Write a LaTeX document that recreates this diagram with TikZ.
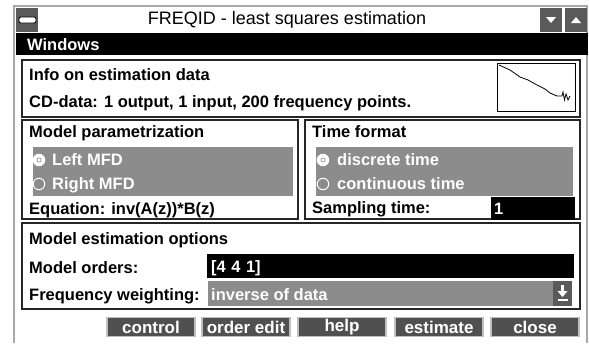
\documentclass[tikz,border=0pt]{standalone}
\usepackage{fontspec}
\setmainfont{Liberation Sans}
\definecolor{panelgray}{HTML}{8C8C8C}
\definecolor{btngray}{HTML}{505050}
\definecolor{icongray}{HTML}{5A5A5A}
\definecolor{framegray}{HTML}{A8A8A8}
\tikzset{
  lbl/.style={anchor=base west, inner sep=0pt, font=\fontsize{16.5}{18}\selectfont\bfseries},
  wlbl/.style={lbl, text=white},
  groupbox/.style={draw=black!85, line width=1.4pt},
  panel/.style={fill=panelgray, draw=none},
  field/.style={fill=black, draw=none},
  btnbox/.style={fill=btngray, draw=black!25, line width=1.2pt, text=white, inner sep=0pt,
    minimum width=88pt, minimum height=19pt, font=\fontsize{17}{18}\selectfont\bfseries},
  radio/.style={circle, draw=white, line width=1pt, inner sep=0pt, minimum size=11.5pt},
  iconbox/.style={fill=icongray, draw=none},
}
\begin{document}
\begin{tikzpicture}[x=1pt, y=-1pt]
\useasboundingbox (0,0) rectangle (589,343);
\fill[white] (0,0) rectangle (589,343);
% window frame
\draw[framegray, line width=2.5pt] (14,343) -- (14,6) -- (587,6) -- (587,343);
% title bar
\fill[icongray] (16,8) rectangle (38,32);
\draw[black, fill=white, rounded corners=2pt, line width=0.8pt] (19,17) rectangle (36,23);
\node[anchor=center, inner sep=0pt, font=\fontsize{18}{20}\selectfont] (title) at (287,20) {FREQID - least squares estimation};
\fill[icongray] (540,8) rectangle (562,32);
\fill[white] (546,17) -- (556,17) -- (551,23) -- cycle;
\fill[icongray] (565,8) rectangle (587,32);
\fill[white] (571,23) -- (581,23) -- (576,17) -- cycle;
% menu bar
\fill[black] (16,33) rectangle (588,55);
\node[wlbl] (menu) at (27,50) {Windows};
% info box
\draw[groupbox] (22,60) rectangle (580,117);
\node[lbl] (infohead) at (29,80) {Info on estimation data};
\node[lbl] (infotext) at (29,107) {CD-data: 1 output, 1 input, 200 frequency points.};
\draw[black, fill=white, line width=0.8pt] (497,63) rectangle (575,111);
\draw[black, line width=0.8pt] (499,65) -- (510,70) -- (520,77) -- (528,80) -- (537,85) -- (545,89) -- (550,93) -- (557,96) -- (562,96) -- (563,92) -- (564.5,100) -- (566,94) -- (568,100) -- (570,96);
% model parametrization
\draw[groupbox] (22,120) rectangle (298,219);
\node[lbl] (parhead) at (29,137) {Model parametrization};
\fill[panelgray] (33,147) rectangle (293,196);
\node[radio, fill=white] (rleft) at (39,160) {};
\fill[panelgray] (rleft.center) circle (2.4pt);
\fill[white] (rleft.center) circle (1.8pt);
\node[wlbl] (tleft) at (52,165) {Left MFD};
\node[radio] (rright) at (39,184) {};
\node[wlbl] (tright) at (52,189) {Right MFD};
\node[lbl] (equation) at (29,214) {Equation: inv(A(z))*B(z)};
% time format
\draw[groupbox] (305,120) rectangle (580,219);
\node[lbl] (timehead) at (312,137) {Time format};
\fill[panelgray] (316,147) rectangle (573,196);
\node[radio, fill=white] (rdisc) at (323,160) {};
\fill[panelgray] (rdisc.center) circle (2.4pt);
\fill[white] (rdisc.center) circle (1.8pt);
\node[wlbl] (tdisc) at (337,165) {discrete time};
\node[radio] (rcont) at (323,184) {};
\node[wlbl] (tcont) at (337,189) {continuous time};
\node[lbl] (samp) at (312,213) {Sampling time:};
\fill[black] (491,197) rectangle (575,220);
\node[wlbl] (sampval) at (494,214) {1};
% model estimation options
\draw[groupbox] (22,223) rectangle (580,309);
\node[lbl] (esthead) at (29,244) {Model estimation options};
\node[lbl] (ordlbl) at (29,273) {Model orders:};
\fill[black] (207,254) rectangle (574,278);
\node[wlbl] (ordval) at (211,272) {[4\,\,4\,\,1]};
\node[lbl] (wlbl) at (29,300) {Frequency weighting:};
\fill[panelgray] (208,281) rectangle (553,306);
\node[wlbl] (wval) at (211,300) {inverse of data};
\fill[icongray] (553,281) rectangle (572,306);
\fill[white] (561,285) rectangle (564,291);
\fill[white] (557.5,291) -- (567.5,291) -- (562.5,297) -- cycle;
\fill[white] (557.5,299) rectangle (567.5,301);
% buttons
\node[btnbox] (bcontrol) at (151,327) {control};
\node[btnbox] (border) at (246,327) {order edit};
\node[btnbox] (bhelp) at (342,327) {help};
\node[btnbox] (bestim) at (439,327) {estimate};
\node[btnbox] (bclose) at (535,327) {close};
\end{tikzpicture}
\end{document}
